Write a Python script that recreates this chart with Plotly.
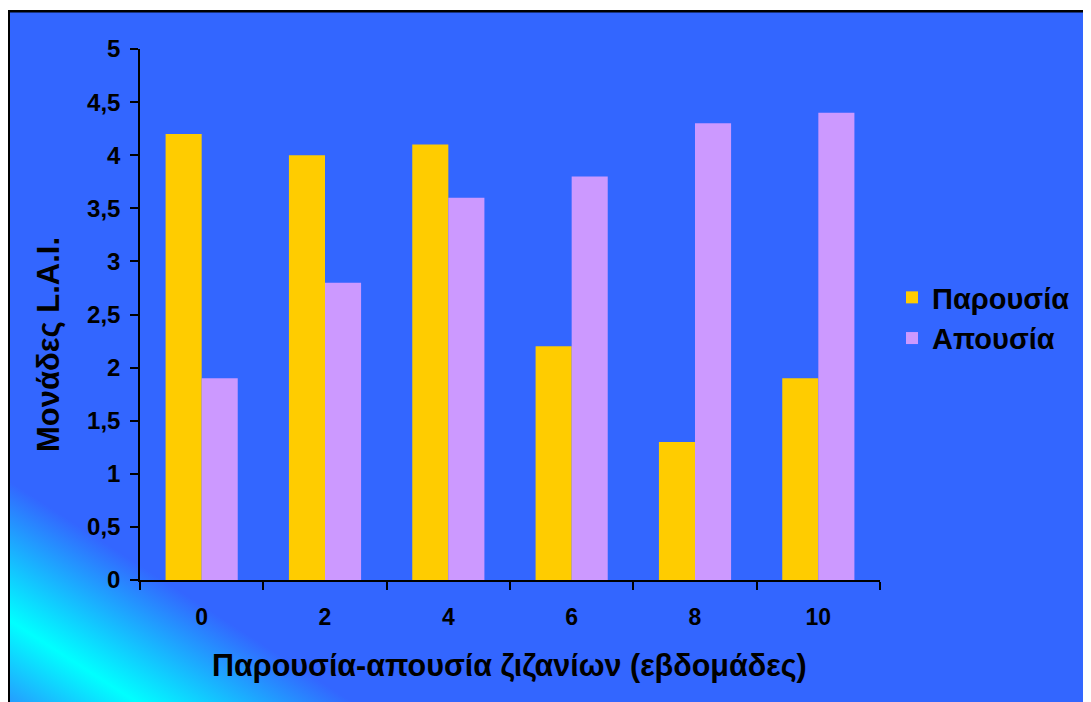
import base64
import plotly.graph_objects as go

categories = ["0", "2", "4", "6", "8", "10"]
presence = [4.2, 4.0, 4.1, 2.2, 1.3, 1.9]
absence = [1.9, 2.8, 3.6, 3.8, 4.3, 4.4]
series_names = ["Παρουσία", "Απουσία"]
y_tickvals = [0, 0.5, 1, 1.5, 2, 2.5, 3, 3.5, 4, 4.5, 5]
y_ticktext = ["0", "0,5", "1", "1,5", "2", "2,5", "3", "3,5", "4", "4,5", "5"]

W, H = 1091, 702
OFF = 8  # page body margin
# plot area in window pixels
WL, WR, WT, WB = 140, 880, 49, 580
L, R, T, B = WL - OFF, WR - OFF, WT - OFF, WB - OFF
pw, ph = R - L, B - T


def px_x(p):  # window px -> paper x
    return (p - OFF - L) / pw


def px_y(p):  # window px -> paper y
    return (B - (p - OFF)) / ph


# background box (window coords): black left/top border, blue with diagonal cyan band
bx0, by0, bx1, by1 = 8, 10, 1099, 712
bw, bh = bx1 - bx0, by1 - by0
svg = f'''<svg xmlns="http://www.w3.org/2000/svg" width="{bw}" height="{bh}" viewBox="0 0 {bw} {bh}" preserveAspectRatio="none">
<defs><linearGradient id="g" x1="0" y1="1" x2="1" y2="0">
<stop offset="0" stop-color="#2a90ff"/>
<stop offset="0.066" stop-color="#00ffff"/>
<stop offset="0.165" stop-color="#3366ff"/>
<stop offset="1" stop-color="#3366ff"/>
</linearGradient></defs>
<rect x="0" y="0" width="{bw}" height="{bh}" fill="url(#g)"/>
<rect x="0" y="0" width="2" height="{bh}" fill="#000"/>
<rect x="0" y="0" width="{bw}" height="2.5" fill="#000"/>
</svg>'''
src = "data:image/svg+xml;base64," + base64.b64encode(svg.encode()).decode()

fig = go.Figure()
fig.add_trace(go.Bar(x=categories, y=presence, name=series_names[0],
                     marker=dict(color="#FFCC00", line=dict(width=0))))
fig.add_trace(go.Bar(x=categories, y=absence, name=series_names[1],
                     marker=dict(color="#CC99FF", line=dict(width=0))))

font_family = "Liberation Sans, Arial, sans-serif"

fig.update_layout(
    width=W, height=H,
    margin=dict(l=L, r=W - R, t=T, b=H - B, pad=0),
    paper_bgcolor="white",
    plot_bgcolor="rgba(0,0,0,0)",
    barmode="group",
    bargap=0.415,
    bargroupgap=0,
    font=dict(family=font_family, color="black"),
    showlegend=True,
    legend=dict(x=px_x(892), y=px_y(318), xanchor="left", yanchor="middle",
                bgcolor="rgba(0,0,0,0)", borderwidth=0,
                font=dict(size=29, family=font_family, color="black", weight="bold"),
                tracegroupgap=0),
    images=[dict(source=src, xref="paper", yref="paper",
                 x=px_x(bx0), y=px_y(by0), sizex=bw / pw, sizey=bh / ph,
                 xanchor="left", yanchor="top", sizing="stretch", layer="below")],
    xaxis=dict(type="category", tickson="boundaries", ticks="outside", ticklen=8,
               tickwidth=1.5, tickcolor="black", showline=True, linecolor="black",
               linewidth=1.5, showgrid=False, zeroline=False,
               tickfont=dict(size=23, family=font_family, color="black", weight="bold"),
               ticklabelstandoff=16),
    yaxis=dict(range=[0, 5], tickvals=y_tickvals, ticktext=y_ticktext,
               ticks="outside", ticklen=8, tickwidth=1.5, tickcolor="black",
               showline=True, linecolor="black", linewidth=1.5, showgrid=False,
               zeroline=False,
               tickfont=dict(size=24, family=font_family, color="black", weight="bold"),
               ticklabelstandoff=5),
    annotations=[
        dict(text="Μονάδες L.A.I.", xref="paper", yref="paper",
             x=px_x(48), y=px_y(345), textangle=-90, showarrow=False,
             xanchor="center", yanchor="middle",
             font=dict(size=31, family=font_family, color="black", weight="bold")),
        dict(text="Παρουσία-απουσία ζιζανίων (εβδομάδες)", xref="paper", yref="paper",
             x=px_x(509), y=px_y(665), showarrow=False,
             xanchor="center", yanchor="middle",
             font=dict(size=30.5, family=font_family, color="black", weight="bold")),
    ],
)

fig.write_html("out.html")
